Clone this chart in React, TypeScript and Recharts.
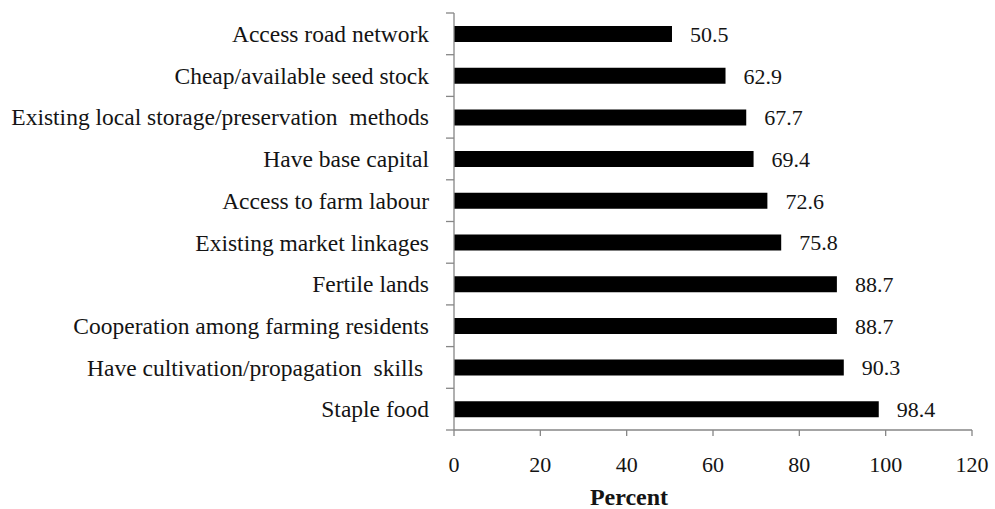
import React from 'react';
import { BarChart, Bar, XAxis, YAxis, LabelList, Label } from 'recharts';

// Factors, listed top to bottom, with the share of respondents (percent)
const categories = [
  'Access road network',
  'Cheap/available seed stock',
  'Existing local storage/preservation  methods',
  'Have base capital',
  'Access to farm labour',
  'Existing market linkages',
  'Fertile lands',
  'Cooperation among farming residents',
  'Have cultivation/propagation  skills ',
  'Staple food',
];
const percents = [50.5, 62.9, 67.7, 69.4, 72.6, 75.8, 88.7, 88.7, 90.3, 98.4];
const xTicks = [0, 20, 40, 60, 80, 100, 120];

const data = categories.map((name, i) => ({ name, value: percents[i] }));

const WIDTH = 995;
const HEIGHT = 509;
const MARGIN = { top: 13, right: 23, bottom: 0, left: 0 };
const Y_AXIS_WIDTH = 454;
const X_AXIS_HEIGHT = 79;
const PLOT_H = HEIGHT - MARGIN.top - MARGIN.bottom - X_AXIS_HEIGHT;
const BAND = PLOT_H / categories.length;
const AXIS_X = MARGIN.left + Y_AXIS_WIDTH;
const AXIS_COLOR = '#868686';
const TEXT_COLOR = '#141414';
const FONT = '"Liberation Serif", "Times New Roman", serif';

// Category labels with tick marks placed on the band boundaries
const CategoryTick = (props: any) => {
  const { y, payload, index } = props;
  const top = y - BAND / 2;
  const bottom = y + BAND / 2;
  return (
    <g>
      <line x1={AXIS_X - 8} x2={AXIS_X} y1={top} y2={top} stroke={AXIS_COLOR} strokeWidth={1.3} />
      {index === categories.length - 1 && (
        <line x1={AXIS_X - 8} x2={AXIS_X} y1={bottom} y2={bottom} stroke={AXIS_COLOR} strokeWidth={1.3} />
      )}
      <text
        x={AXIS_X - 25}
        y={y}
        dy="0.35em"
        textAnchor="end"
        fill={TEXT_COLOR}
        fontSize={23.5}
        fontFamily={FONT}
        style={{ whiteSpace: 'pre' }}
      >
        {payload.value}
      </text>
    </g>
  );
};

const AxisTitle = (props: any) => {
  const { viewBox } = props;
  const cx = viewBox.x + viewBox.width / 2 - 84;
  return (
    <text x={cx} y={viewBox.y + 75} textAnchor="middle" fill={TEXT_COLOR} fontSize={24} fontWeight="bold" fontFamily={FONT}>
      Percent
    </text>
  );
};

export default function App() {
  return (
    <div style={{ position: 'absolute', left: 0, top: 0, background: '#fff' }}>
      <BarChart width={WIDTH} height={HEIGHT} data={data} layout="vertical" margin={MARGIN}>
        <XAxis
          type="number"
          domain={[0, 120]}
          ticks={xTicks}
          height={X_AXIS_HEIGHT}
          stroke={AXIS_COLOR}
          axisLine={{ stroke: AXIS_COLOR, strokeWidth: 1.3 }}
          tickLine={{ stroke: AXIS_COLOR, strokeWidth: 1.3 }}
          tickSize={6}
          tickMargin={20}
          tick={{ fill: TEXT_COLOR, fontSize: 22, fontFamily: FONT }}
        >
          <Label content={<AxisTitle />} />
        </XAxis>
        <YAxis
          type="category"
          dataKey="name"
          width={Y_AXIS_WIDTH}
          axisLine={{ stroke: AXIS_COLOR, strokeWidth: 1.3 }}
          tickLine={false}
          tick={<CategoryTick />}
          interval={0}
        />
        <Bar dataKey="value" fill="#000" barSize={16} isAnimationActive={false}>
          <LabelList
            dataKey="value"
            position="right"
            offset={18}
            fill={TEXT_COLOR}
            fontSize={22}
            fontFamily={FONT}
          />
        </Bar>
      </BarChart>
    </div>
  );
}
